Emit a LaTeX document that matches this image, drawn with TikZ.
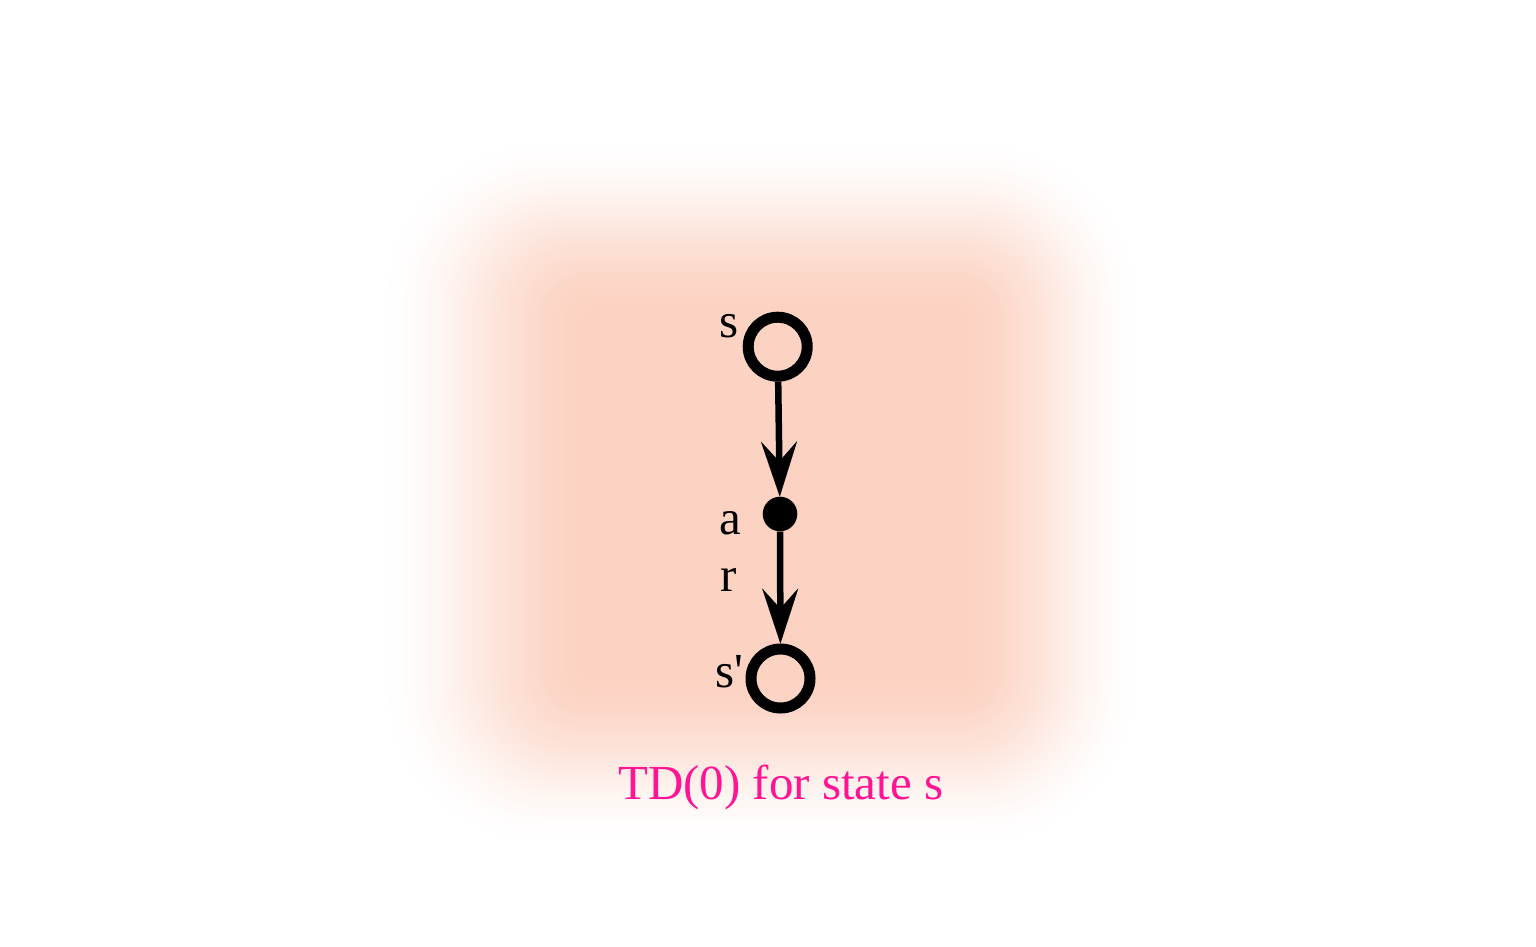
\documentclass[tikz,border=0pt]{standalone}
\usepackage{fontspec}
\setmainfont{Liberation Serif}
\usetikzlibrary{arrows.meta}
\definecolor{peach}{RGB}{252,211,195}
\definecolor{capcol}{RGB}{255,20,147}
\begin{document}
\begin{tikzpicture}[x=1pt,y=-1pt,
  statenode/.style={circle,draw=black,line width=11pt,inner sep=0pt,minimum size=59pt},
  dotnode/.style={circle,fill=black,draw=none,inner sep=0pt,minimum size=34.6pt},
  lab/.style={inner sep=0pt,anchor=base,font=\fontsize{49pt}{58pt}\selectfont},
  captext/.style={inner sep=0pt,anchor=base,text=capcol,font=\fontsize{49pt}{58pt}\selectfont},
  arr/.style={draw=black,line width=6.5pt,-{Stealth[length={55pt 0 0},width={36pt 0 0},inset={20pt 0 0},line width=0.01pt]}}]
\useasboundingbox (0,0) rectangle (1536,946);
\fill[white] (0,0) rectangle (1536,946);
% blurred background
\foreach \k in {0,...,50}{
  \pgfmathsetmacro\t{\k/50}
  \pgfmathsetmacro\p{100*\t*\t*(3-2*\t)}
  \pgfmathsetmacro\xa{375+210*\t}
  \pgfmathsetmacro\ya{135+175*\t}
  \pgfmathsetmacro\xb{1145-180*\t}
  \pgfmathsetmacro\yb{850-170*\t}
  \pgfmathsetmacro\rc{150*(1-\t)+15}
  \fill[peach!\p!white, rounded corners=\rc pt] (\xa,\ya) rectangle (\xb,\yb);
}
% nodes
\node[statenode] (s) at (777.7,346.7) {};
\node[dotnode] (a) at (780,514) {};
\node[statenode] (s2) at (780.5,678.5) {};
% connectors
\draw[arr] (s) -- (a);
\draw[arr] (a) -- (s2);
% labels
\node[lab] (ls) at (729.5,337) {s};
\node[lab] (la) at (730,534) {a};
\node[lab] (lr) at (728.5,591) {r};
\node[lab] (ls2) at (729,687) {s\textquotesingle};
\node[captext] (cap) at (780.7,799.3) {TD(0) for state s};
\end{tikzpicture}
\end{document}
